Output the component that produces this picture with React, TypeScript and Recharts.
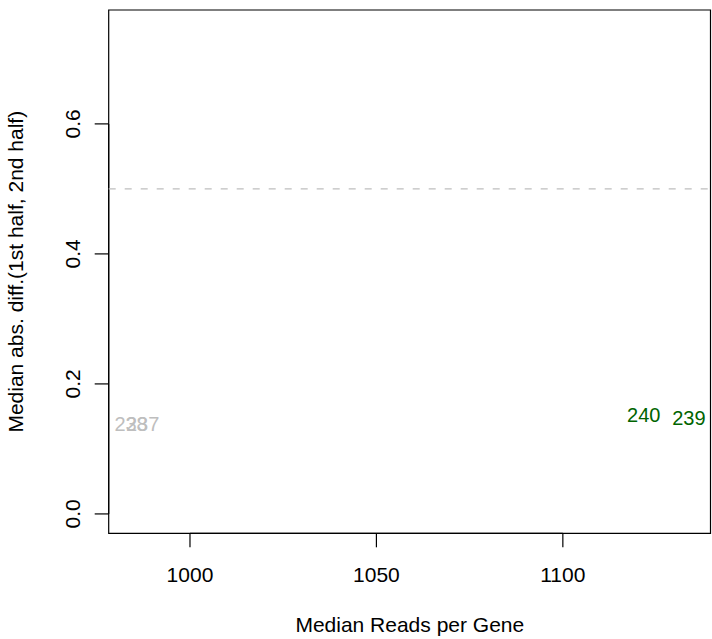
import React from 'react';
import { ScatterChart, Scatter, XAxis, YAxis, ReferenceLine, ReferenceArea } from 'recharts';

// Data
const grayLabels = ['238', '237'];
const grayX = [984.2, 987.3];
const grayY = [0.139, 0.139];

const greenLabels = ['240', '239'];
const greenX = [1121.7, 1133.8];
const greenY = [0.152, 0.148];

const xTicks = [1000, 1050, 1100];
const yTicks = [0, 0.2, 0.4, 0.6];
const xDomain: [number, number] = [978.2, 1139.6];
const yDomain: [number, number] = [-0.0298, 0.7752];
const thresholdY = 0.5;

const xTitle = 'Median Reads per Gene';
const yTitle = 'Median abs. diff.(1st half, 2nd half)';

const grayData = grayLabels.map((label, i) => ({ label, x: grayX[i], y: grayY[i] }));
const greenData = greenLabels.map((label, i) => ({ label, x: greenX[i], y: greenY[i] }));

const FONT = '"Liberation Sans", Arial, Helvetica, sans-serif';
const AXIS_FS = 21;
const LABEL_FS = 20;

const makeShape = (color: string) => (props: any) => {
  const { cx, cy, payload } = props;
  return (
    <text x={cx} y={cy} dy="0.36em" textAnchor="middle" fill={color} fontSize={LABEL_FS} fontFamily={FONT}>
      {payload.label}
    </text>
  );
};

const XTick = (props: any) => {
  const { x, payload } = props;
  return (
    <text x={x} y={582} textAnchor="middle" fill="#000" fontSize={AXIS_FS} fontFamily={FONT}>
      {payload.value}
    </text>
  );
};

const YTick = (props: any) => {
  const { y, payload } = props;
  return (
    <text
      x={80}
      y={y}
      transform={`rotate(-90, 80, ${y})`}
      textAnchor="middle"
      fill="#000"
      fontSize={AXIS_FS}
      fontFamily={FONT}
    >
      {Number(payload.value).toFixed(1)}
    </text>
  );
};

export default function App() {
  return (
    <div style={{ position: 'absolute', left: 0, top: 0, width: 712, height: 639, background: '#fff' }}>
      <ScatterChart
        width={712}
        height={639}
        margin={{ top: 10, right: 1.5, bottom: 45.7, left: 48.7 }}
      >
        <XAxis
          type="number"
          dataKey="x"
          domain={xDomain}
          ticks={xTicks}
          interval={0}
          allowDataOverflow
          axisLine={false}
          tickLine={{ stroke: '#000', strokeWidth: 1.2 }}
          tickSize={14}
          height={60}
          tick={<XTick />}
        />
        <YAxis
          type="number"
          dataKey="y"
          domain={yDomain}
          ticks={yTicks}
          interval={0}
          allowDataOverflow
          axisLine={false}
          tickLine={{ stroke: '#000', strokeWidth: 1.2 }}
          tickSize={14}
          width={60}
          tick={<YTick />}
        />
        <ReferenceArea
          x1={xDomain[0]}
          x2={xDomain[1]}
          y1={yDomain[0]}
          y2={yDomain[1]}
          fill="none"
          fillOpacity={0}
          stroke="#000"
          strokeWidth={1.2}
          ifOverflow="visible"
        />
        <ReferenceLine
          segment={[{ x: xTicks[0], y: yDomain[0] }, { x: xTicks[xTicks.length - 1], y: yDomain[0] }]}
          stroke="#000"
          strokeWidth={1.2}
          ifOverflow="visible"
        />
        <ReferenceLine
          segment={[{ x: xDomain[0], y: yTicks[0] }, { x: xDomain[0], y: yTicks[yTicks.length - 1] }]}
          stroke="#000"
          strokeWidth={1.2}
          ifOverflow="visible"
        />
        <ReferenceLine y={thresholdY} stroke="#BEBEBE" strokeWidth={1.2} strokeDasharray="7 9" ifOverflow="visible" />
        <Scatter data={grayData} isAnimationActive={false} shape={makeShape('#BEBEBE')} />
        <Scatter data={greenData} isAnimationActive={false} shape={makeShape('#006400')} />
      </ScatterChart>
      <svg width={712} height={639} style={{ position: 'absolute', left: 0, top: 0, pointerEvents: 'none' }}>
        <text x={409.8} y={632} textAnchor="middle" fill="#000" fontSize={AXIS_FS} fontFamily={FONT}>
          {xTitle}
        </text>
        <text
          x={23}
          y={271.7}
          transform="rotate(-90, 23, 271.7)"
          textAnchor="middle"
          fill="#000"
          fontSize={AXIS_FS}
          fontFamily={FONT}
        >
          {yTitle}
        </text>
      </svg>
    </div>
  );
}
